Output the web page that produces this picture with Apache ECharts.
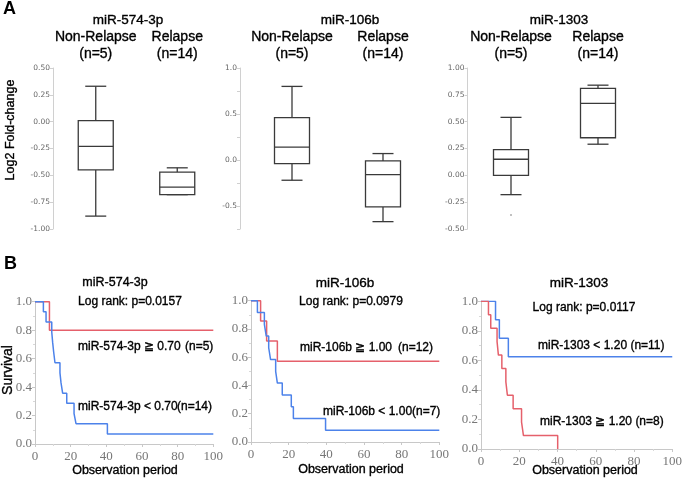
<!DOCTYPE html>
<html>
<head>
<meta charset="utf-8">
<script src="https://cdn.jsdelivr.net/npm/echarts@6/dist/echarts.min.js"></script>
<style>
html,body{margin:0;padding:0;background:#fff;}
#main{width:685px;height:481px;}
</style>
</head>
<body>
<div id="main"></div>
<script>
// ---------- Panel A data (box plots: [min, Q1, median, Q3, max]) ----------
const boxCats = ['Non-Relapse\n(n=5)', 'Relapse\n(n=14)'];
const box574 = [[-0.88, -0.45, -0.23, 0.01, 0.33], [-0.68, -0.68, -0.61, -0.47, -0.43]];
const box106 = [[-0.22, -0.04, 0.14, 0.46, 0.80], [-0.67, -0.51, -0.16, -0.01, 0.07]];
const box1303 = [[-0.18, 0.00, 0.15, 0.24, 0.54], [0.29, 0.35, 0.67, 0.81, 0.84]];
const outlier1303 = [[0, -0.37]];

// ---------- Panel B data (Kaplan-Meier step points: time, survival) ----------
const km574HighT = [0, 8.1, 100];
const km574HighS = [1, 0.8, 0.8];
const km574LowT = [0, 4.7, 6.2, 9.4, 9.9, 10.5, 11.2, 14.0, 14.6, 15.5, 17.8, 21.9, 23.0, 40.6, 100];
const km574LowS = [1, 0.929, 0.857, 0.786, 0.714, 0.643, 0.571, 0.5, 0.429, 0.357, 0.286, 0.214, 0.143, 0.071, 0.071];

const km106HighT = [0, 5.1, 8.3, 14.0, 100];
const km106HighS = [1, 0.857, 0.714, 0.571, 0.571];
const km106LowT = [0, 3.4, 7.1, 8.1, 9.4, 10.4, 13.1, 14.0, 16.6, 21.4, 22.5, 39.6, 100];
const km106LowS = [1, 0.917, 0.833, 0.75, 0.667, 0.583, 0.5, 0.417, 0.333, 0.25, 0.167, 0.083, 0.083];

const km1303LowT = [0, 7.6, 9.6, 14.3, 100];
const km1303LowS = [1, 0.875, 0.75, 0.625, 0.625];
const km1303HighT = [0, 3.9, 5.1, 8.4, 9.1, 10.9, 13.0, 13.8, 16.8, 21.2, 22.2, 40.1];
const km1303HighS = [1, 0.909, 0.818, 0.727, 0.636, 0.545, 0.455, 0.364, 0.273, 0.182, 0.091, 0];

// ---------- helpers ----------
const SANS = 'Liberation Sans, Arial, sans-serif';
const RED = '#e5606b';
const BLUE = '#4c82ea';
const zip = (t, s) => t.map((v, i) => [v, s[i]]);
const boxData = arr => arr.map((b, i) => [i].concat(b));

function renderBox(params, api) {
  const x = api.value(0);
  const lo = api.coord([x, api.value(1)]);
  const q1 = api.coord([x, api.value(2)]);
  const md = api.coord([x, api.value(3)]);
  const q3 = api.coord([x, api.value(4)]);
  const hi = api.coord([x, api.value(5)]);
  const cx = lo[0], hw = 17.5, cw = 10.5;
  const st = { stroke: '#3a3a3a', lineWidth: 1.3, fill: null };
  return {
    type: 'group', children: [
      { type: 'line', shape: { x1: cx, y1: hi[1], x2: cx, y2: q3[1] }, style: st },
      { type: 'line', shape: { x1: cx, y1: q1[1], x2: cx, y2: lo[1] }, style: st },
      { type: 'line', shape: { x1: cx - cw, y1: hi[1], x2: cx + cw, y2: hi[1] }, style: st },
      { type: 'line', shape: { x1: cx - cw, y1: lo[1], x2: cx + cw, y2: lo[1] }, style: st },
      { type: 'rect', shape: { x: cx - hw, y: q3[1], width: 2 * hw, height: q1[1] - q3[1] }, style: { stroke: '#3a3a3a', lineWidth: 1.3, fill: '#fff' } },
      { type: 'line', shape: { x1: cx - hw, y1: md[1], x2: cx + hw, y2: md[1] }, style: st }
    ]
  };
}

const gridsA = [
  { left: 55, top: 68, width: 163, height: 161 },
  { left: 246.5, top: 68, width: 182, height: 161 },
  { left: 467.5, top: 68, width: 174, height: 161 }
];
const offsA = [2, 6.5, 0];
const yRangeA = [[-1, 0.5], [-0.75, 1.0], [-0.5, 1.0]];
const gridsB = [
  { left: 35, top: 301.7, width: 178.3, height: 142.3 },
  { left: 251, top: 300.7, width: 188.3, height: 141.3 },
  { left: 481, top: 301.3, width: 198, height: 147.7 }
];

const grid = [], xAxis = [], yAxis = [], series = [];
gridsA.forEach((g, i) => {
  grid.push(g);
  xAxis.push({
    gridIndex: i, type: 'category', data: boxCats, position: 'top',
    axisLine: { show: false }, axisTick: { show: false },
    axisLabel: { color: '#000', fontSize: 14, fontFamily: SANS, lineHeight: 17, margin: 5, interval: 0,
      textBorderColor: '#000', textBorderWidth: 0.35 }
  });
  yAxis.push({
    gridIndex: i, type: 'value', min: yRangeA[i][0], max: yRangeA[i][1], interval: 0.25, offset: offsA[i],
    axisLine: { show: true, lineStyle: { color: '#d0d0d0', width: 1 } },
    axisTick: { show: true, length: 3, lineStyle: { color: '#d0d0d0' } },
    splitLine: { show: false },
    axisLabel: {
      color: '#666', fontSize: 7.5, fontFamily: 'DejaVu Sans', margin: 3,
      formatter: i === 1
        ? (v => Math.abs(v * 2 - Math.round(v * 2)) < 1e-6 ? v.toFixed(1) : '')
        : (v => v.toFixed(2))
    }
  });
});
gridsB.forEach((g, i) => {
  grid.push(g);
  xAxis.push({
    gridIndex: 3 + i, type: 'value', min: 0, max: 100, interval: 20,
    axisLine: { show: true, onZero: false, lineStyle: { color: '#c8c8c8' } },
    axisTick: { show: true, length: 3, lineStyle: { color: '#c8c8c8' } },
    minorTick: { show: true, splitNumber: 2, length: 2, lineStyle: { color: '#d8d8d8' } },
    splitLine: { show: false },
    axisLabel: { color: '#777', fontSize: 13, fontFamily: 'Liberation Serif, serif', margin: 6 }
  });
  yAxis.push({
    gridIndex: 3 + i, type: 'value', min: 0, max: 1, interval: 0.2,
    axisLine: { show: true, onZero: false, lineStyle: { color: '#c8c8c8' } },
    axisTick: { show: true, length: 3, lineStyle: { color: '#c8c8c8' } },
    minorTick: { show: true, splitNumber: 2, length: 2, lineStyle: { color: '#d8d8d8' } },
    splitLine: { show: false },
    axisLabel: { color: '#777', fontSize: 13, fontFamily: 'Liberation Serif, serif', margin: 3, formatter: v => v.toFixed(1) }
  });
});

[box574, box106, box1303].forEach((b, i) => {
  series.push({
    type: 'custom', xAxisIndex: i, yAxisIndex: i, renderItem: renderBox,
    encode: { x: 0, y: [1, 2, 3, 4, 5] }, data: boxData(b), silent: true
  });
});
series.push({
  type: 'scatter', xAxisIndex: 2, yAxisIndex: 2, data: outlier1303,
  symbolSize: 2, itemStyle: { color: '#999' }, silent: true
});

function km(idx, t, s, color) {
  return {
    type: 'line', xAxisIndex: idx, yAxisIndex: idx, step: 'end', data: zip(t, s),
    showSymbol: false, symbol: 'none', lineStyle: { color: color, width: 1.5 }, silent: true
  };
}
series.push(km(3, km574HighT, km574HighS, RED));
series.push(km(3, km574LowT, km574LowS, BLUE));
series.push(km(4, km106HighT, km106HighS, RED));
series.push(km(4, km106LowT, km106LowS, BLUE));
series.push(km(5, km1303LowT, km1303LowS, BLUE));
series.push(km(5, km1303HighT, km1303HighS, RED));

function txt(x, y, text, size, opts) {
  opts = opts || {};
  return {
    type: 'text', x: x, y: y, rotation: opts.rot || 0, silent: true,
    style: {
      text: text, fill: '#000', font: (opts.bold ? 'bold ' : '') + size + 'px ' + SANS,
      textAlign: opts.align || 'center', textVerticalAlign: 'middle',
      stroke: '#000', lineWidth: opts.bold ? 0 : 0.35
    }
  };
}

const graphic = [
  txt(3, 9, 'A', 18, { bold: true, align: 'left' }),
  txt(128, 20, 'miR-574-3p', 13.5),
  txt(350, 20, 'miR-106b', 13.5),
  txt(559, 20, 'miR-1303', 13.5),
  txt(11, 130, 'Log2 Fold-change', 12.5, { rot: Math.PI / 2 }),

  txt(4, 264, 'B', 18, { bold: true, align: 'left' }),
  txt(115, 283, 'miR-574-3p', 12.5),
  txt(345, 283, 'miR-106b', 13.5),
  txt(579, 283, 'miR-1303', 13.5),
  txt(130, 302, 'Log rank: p=0.0157', 12),
  txt(351, 302, 'Log rank: p=0.0979', 12),
  txt(584, 308, 'Log rank: p=0.0117', 12),

  txt(78, 347, 'miR-574-3p ≧ 0.70', 12, { align: 'left' }),
  txt(185, 347, '(n=5)', 12, { align: 'left' }),
  txt(78, 407, 'miR-574-3p < 0.70', 12, { align: 'left' }),
  txt(177, 407, '(n=14)', 12, { align: 'left' }),

  txt(300, 348, 'miR-106b ≧ 1.00', 12, { align: 'left' }),
  txt(398, 348, '(n=12)', 12, { align: 'left' }),
  txt(323, 412, 'miR-106b < 1.00', 12, { align: 'left' }),
  txt(412, 412, '(n=7)', 12, { align: 'left' }),

  txt(538, 346, 'miR-1303 < 1.20 (n=11)', 12, { align: 'left' }),
  txt(540, 422, 'miR-1303 ≧ 1.20 (n=8)', 12, { align: 'left' }),

  txt(8, 370, 'Survival', 14, { rot: Math.PI / 2 }),
  txt(125, 471, 'Observation period', 12.5),
  txt(351, 470, 'Observation period', 12.5),
  txt(585, 471, 'Observation period', 12.5)
];

const chart = echarts.init(document.getElementById('main'), null, { renderer: 'canvas' });
chart.setOption({
  animation: false,
  backgroundColor: '#fff',
  grid: grid, xAxis: xAxis, yAxis: yAxis, series: series, graphic: graphic
});
</script>
</body>
</html>
